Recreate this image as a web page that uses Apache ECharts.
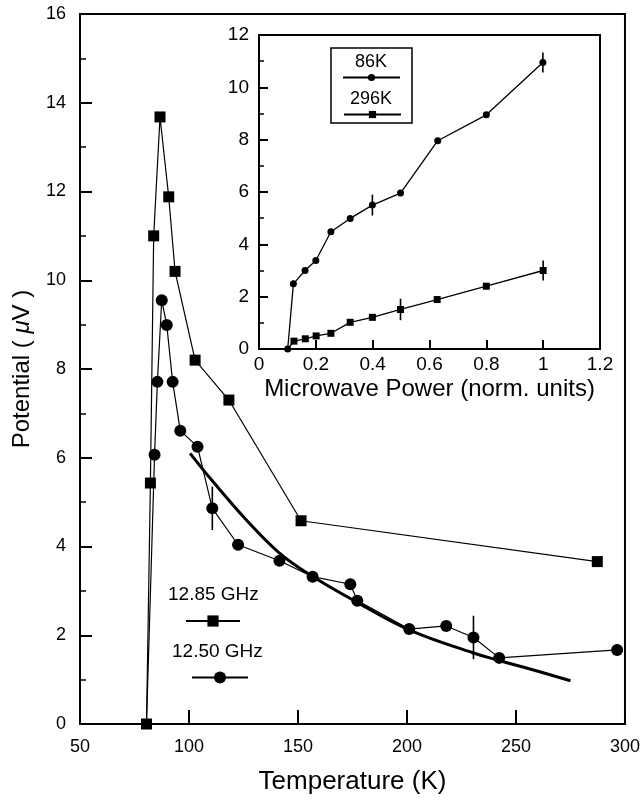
<!DOCTYPE html>
<html>
<head>
<meta charset="utf-8">
<script src="https://cdn.jsdelivr.net/npm/echarts@6/dist/echarts.min.js"></script>
<style>html,body{margin:0;padding:0;background:#fff}#c{width:643px;height:800px}</style>
</head>
<body>
<div id="c"></div>
<script>
// ---- Main chart data: Temperature (K) vs Potential (µV)
var sq1285 = [[80.5,0],[82.3,5.43],[83.8,11.0],[86.7,13.68],[90.7,11.88],[93.6,10.2],[102.8,8.2],[118.3,7.3],[151.4,4.58],[287.3,3.66]];
var ci1250 = [[80.5,0],[84.2,6.07],[85.5,7.71],[87.5,9.55],[89.8,8.99],[92.5,7.71],[96.0,6.61],[103.9,6.25],[110.7,4.86],[122.5,4.04],[141.5,3.68],[156.7,3.32],[174.0,3.15],[177.2,2.78],[201.0,2.14],[218.0,2.21],[230.5,1.95],[242.3,1.49],[296.4,1.67]];
var ci1250Err = [[110.7,4.37,5.35],[230.5,1.46,2.44]];
var fitCurve = [[100.5,6.1],[110.7,5.48],[125.9,4.62],[141.1,3.87],[156.2,3.34],[177.2,2.74],[201.0,2.12],[230.5,1.6],[242.3,1.43],[256.4,1.24],[275.0,0.975]];
var mainXTicks = [50,100,150,200,250,300];
var mainYTicks = [0,2,4,6,8,10,12,14,16];

// ---- Inset data: Microwave power vs Potential
var in86K = [[0.101,0],[0.121,2.49],[0.162,3.0],[0.2,3.38],[0.253,4.48],[0.321,4.99],[0.399,5.5],[0.498,5.96],[0.629,7.96],[0.80,8.95],[0.999,10.95]];
var in86KErr = [[0.399,5.1,5.9],[0.999,10.57,11.33]];
var in296K = [[0.101,0],[0.123,0.3],[0.163,0.39],[0.201,0.5],[0.253,0.6],[0.321,1.02],[0.399,1.21],[0.498,1.51],[0.627,1.89],[0.80,2.40],[1.0,3.0]];
var in296KErr = [[0.498,1.1,1.92],[1.0,2.62,3.38]];
var insetXTicks = [0,0.2,0.4,0.6,0.8,1,1.2];
var insetYTicks = [0,2,4,6,8,10,12];

var FONT = '"Liberation Sans", Arial, Helvetica, sans-serif';

function errRender(params, api) {
  var p1 = api.coord([api.value(0), api.value(1)]);
  var p2 = api.coord([api.value(0), api.value(2)]);
  return {type:'line', shape:{x1:p1[0],y1:p1[1],x2:p2[0],y2:p2[1]}, style:{stroke:'#000', lineWidth:1.6}};
}
function noSymFirst(arr){
  return arr.map(function(d,i){ return i===0 ? {value:d, symbol:'none'} : d; });
}

var chart = echarts.init(document.getElementById('c'), null, {renderer:'canvas'});
var option = {
  backgroundColor:'#fff',
  animation:false,
  textStyle:{fontFamily:FONT, color:'#000'},
  grid:[
    {left:80, right:14, top:14, bottom:75, show:true, borderColor:'#000', borderWidth:2, backgroundColor:'transparent'},
    {left:259, right:43, top:35, bottom:451, show:true, borderColor:'#000', borderWidth:2, backgroundColor:'#fff'}
  ],
  xAxis:[
    {gridIndex:0, type:'value', min:mainXTicks[0], max:mainXTicks[mainXTicks.length-1], interval:50,
     name:'Temperature (K)', nameLocation:'middle', nameGap:45,
     nameTextStyle:{fontSize:26, fontFamily:FONT, color:'#000'},
     axisLine:{lineStyle:{color:'#000', width:2}},
     axisTick:{inside:true, length:14, lineStyle:{color:'#000', width:2}},
     axisLabel:{fontSize:18, color:'#000', margin:14, fontFamily:FONT},
     splitLine:{show:false}},
    {gridIndex:1, type:'value', min:insetXTicks[0], max:insetXTicks[insetXTicks.length-1], interval:0.2,
     name:'Microwave Power (norm. units)', nameLocation:'middle', nameGap:28,
     nameTextStyle:{fontSize:24, fontFamily:FONT, color:'#000'},
     axisLine:{lineStyle:{color:'#000', width:2}},
     axisTick:{inside:true, length:9, lineStyle:{color:'#000', width:2}},
     axisLabel:{fontSize:19, color:'#000', margin:6, fontFamily:FONT,
       formatter:function(v){ return String(Math.round(v*10)/10); }},
     splitLine:{show:false}}
  ],
  yAxis:[
    {gridIndex:0, type:'value', min:mainYTicks[0], max:mainYTicks[mainYTicks.length-1], interval:2,
     name:'{a|Potential (}{b| μ}{a|V )}', nameLocation:'middle', nameGap:46, nameRotate:90,
     nameTextStyle:{fontSize:24, fontFamily:FONT, color:'#000',
       rich:{a:{fontSize:24, fontFamily:FONT, color:'#000'}, b:{fontSize:24, fontStyle:'italic', fontFamily:FONT, color:'#000'}}},
     axisLine:{lineStyle:{color:'#000', width:2}},
     axisTick:{inside:true, length:12, lineStyle:{color:'#000', width:2}},
     minorTick:{show:true, splitNumber:2, length:6, lineStyle:{color:'#000', width:1.5}},
     axisLabel:{fontSize:18, color:'#000', margin:14, fontFamily:FONT},
     splitLine:{show:false}},
    {gridIndex:1, type:'value', min:insetYTicks[0], max:insetYTicks[insetYTicks.length-1], interval:2,
     axisLine:{lineStyle:{color:'#000', width:2}},
     axisTick:{inside:true, length:9, lineStyle:{color:'#000', width:2}},
     minorTick:{show:true, splitNumber:2, length:5, lineStyle:{color:'#000', width:1.5}},
     axisLabel:{fontSize:19, color:'#000', margin:10, fontFamily:FONT},
     splitLine:{show:false}}
  ],
  legend:[
    {data:['12.85 GHz'], left:185, top:614, itemWidth:54, itemHeight:14, itemGap:0, padding:0,
     formatter:function(){return '';}, textStyle:{fontSize:1}, selectedMode:false},
    {data:['12.50 GHz'], left:191, top:670, itemWidth:56, itemHeight:15, itemGap:0, padding:0,
     formatter:function(){return '';}, textStyle:{fontSize:1}, selectedMode:false},
    {data:['86K'], left:342, top:73, itemWidth:57, itemHeight:9, itemGap:0, padding:0,
     formatter:function(){return '';}, textStyle:{fontSize:1}, selectedMode:false},
    {data:['296K'], left:343, top:110, itemWidth:57, itemHeight:9, itemGap:0, padding:0,
     formatter:function(){return '';}, textStyle:{fontSize:1}, selectedMode:false}
  ],
  graphic:[
    {type:'text', left:168, top:585, style:{text:'12.85 GHz', font:'19px '+FONT, fill:'#000'}},
    {type:'text', left:172, top:642, style:{text:'12.50 GHz', font:'19px '+FONT, fill:'#000'}},
    {type:'rect', shape:{x:331, y:48, width:81, height:75}, style:{fill:'none', stroke:'#000', lineWidth:1.5}, z:10},
    {type:'text', x:371, y:62, style:{text:'86K', font:'18px '+FONT, fill:'#000', align:'center', verticalAlign:'middle'}, z:10},
    {type:'text', x:371, y:99, style:{text:'296K', font:'18px '+FONT, fill:'#000', align:'center', verticalAlign:'middle'}, z:10}
  ],
  series:[
    {name:'fit', type:'line', xAxisIndex:0, yAxisIndex:0, data:fitCurve, smooth:0.4, showSymbol:false, symbol:'none',
     lineStyle:{color:'#000', width:3}, z:2},
    {name:'12.50 GHz', type:'line', xAxisIndex:0, yAxisIndex:0, data:noSymFirst(ci1250), symbol:'circle', symbolSize:12,
     itemStyle:{color:'#000'}, lineStyle:{color:'#000', width:1.2}, z:3},
    {name:'12.85 GHz', type:'line', xAxisIndex:0, yAxisIndex:0, data:sq1285, symbol:'rect', symbolSize:11,
     itemStyle:{color:'#000'}, lineStyle:{color:'#000', width:1.2}, z:4},
    {name:'err1250', type:'custom', xAxisIndex:0, yAxisIndex:0, data:ci1250Err, renderItem:errRender, encode:{x:0, y:[1,2]}, z:5},
    {name:'86K', type:'line', xAxisIndex:1, yAxisIndex:1, data:in86K, symbol:'circle', symbolSize:7,
     itemStyle:{color:'#000'}, lineStyle:{color:'#000', width:1.3}, z:4},
    {name:'296K', type:'line', xAxisIndex:1, yAxisIndex:1, data:noSymFirst(in296K), symbol:'rect', symbolSize:7,
     itemStyle:{color:'#000'}, lineStyle:{color:'#000', width:1.3}, z:4},
    {name:'err86', type:'custom', xAxisIndex:1, yAxisIndex:1, data:in86KErr, renderItem:errRender, encode:{x:0, y:[1,2]}, z:5},
    {name:'err296', type:'custom', xAxisIndex:1, yAxisIndex:1, data:in296KErr, renderItem:errRender, encode:{x:0, y:[1,2]}, z:5}
  ]
};
chart.setOption(option);
</script>
</body>
</html>
